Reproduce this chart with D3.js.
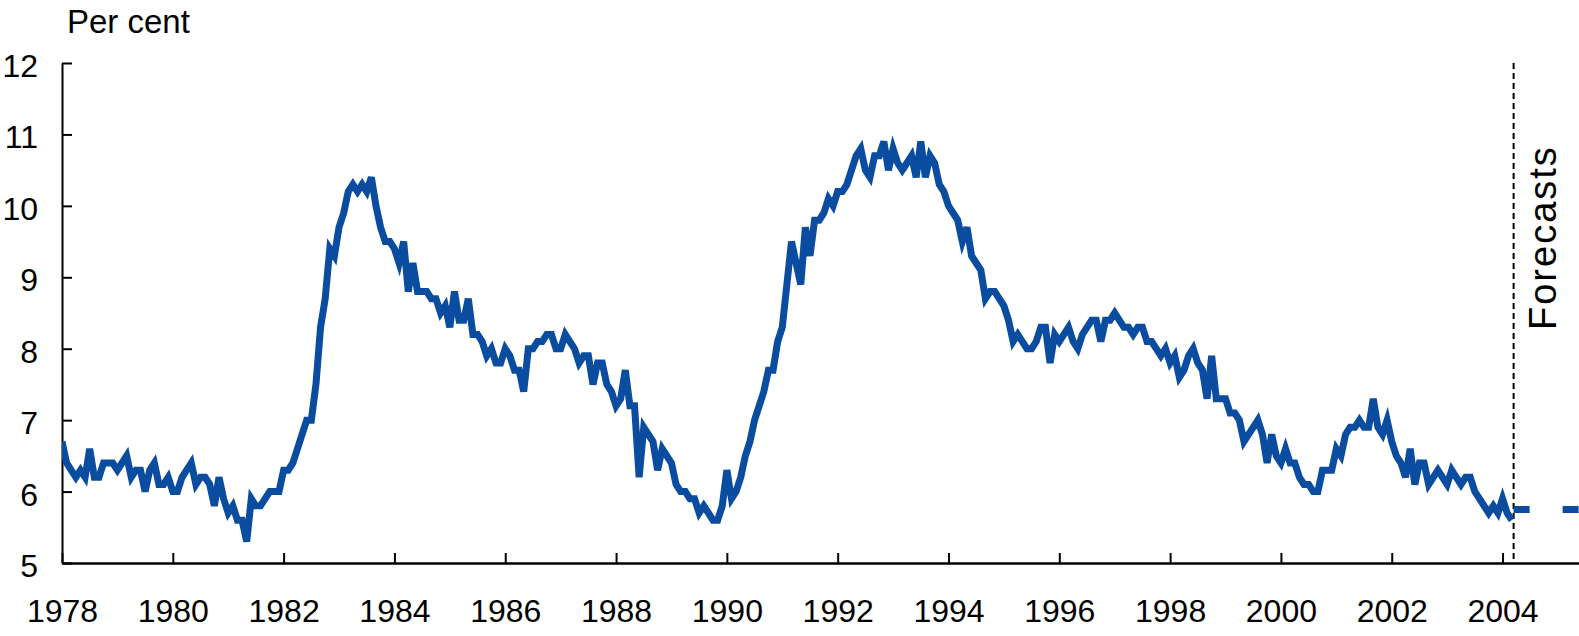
<!DOCTYPE html>
<html>
<head>
<meta charset="utf-8">
<script src="https://cdn.jsdelivr.net/npm/d3@7"></script>
<style>
  html, body { margin: 0; padding: 0; background: #fff; }
  svg { display: block; }
  text { font-family: "Liberation Sans", Arial, Helvetica, sans-serif; fill: #000; }
</style>
</head>
<body>
<svg id="chart" width="1579" height="636"></svg>
<script>
// ---------------- DATA ----------------
const startYear = 1978;            // first monthly observation (January 1978)
const unemployment = [
  // 1978
  6.7, 6.4, 6.3, 6.2, 6.3, 6.2, 6.6, 6.2, 6.2, 6.4, 6.4, 6.4,
  // 1979
  6.3, 6.4, 6.5, 6.2, 6.3, 6.3, 6.0, 6.3, 6.4, 6.1, 6.1, 6.2,
  // 1980
  6.0, 6.0, 6.2, 6.3, 6.4, 6.1, 6.2, 6.2, 6.1, 5.8, 6.2, 5.9,
  // 1981
  5.7, 5.8, 5.6, 5.6, 5.3, 5.9, 5.8, 5.8, 5.9, 6.0, 6.0, 6.0,
  // 1982
  6.3, 6.3, 6.4, 6.6, 6.8, 7.0, 7.0, 7.5, 8.3, 8.7, 9.4, 9.3,
  // 1983
  9.7, 9.9, 10.2, 10.3, 10.2, 10.3, 10.2, 10.4, 10.0, 9.7, 9.5, 9.5,
  // 1984
  9.4, 9.2, 9.5, 8.8, 9.2, 8.8, 8.8, 8.8, 8.7, 8.7, 8.5, 8.6,
  // 1985
  8.3, 8.8, 8.4, 8.4, 8.7, 8.2, 8.2, 8.1, 7.9, 8.0, 7.8, 7.8,
  // 1986
  8.0, 7.9, 7.7, 7.7, 7.4, 8.0, 8.0, 8.1, 8.1, 8.2, 8.2, 8.0,
  // 1987
  8.0, 8.2, 8.1, 8.0, 7.8, 7.9, 7.9, 7.5, 7.8, 7.8, 7.5, 7.4,
  // 1988
  7.2, 7.3, 7.7, 7.2, 7.2, 6.2, 6.9, 6.8, 6.7, 6.3, 6.6, 6.5,
  // 1989
  6.4, 6.1, 6.0, 6.0, 5.9, 5.9, 5.7, 5.8, 5.7, 5.6, 5.6, 5.8,
  // 1990
  6.3, 5.9, 6.0, 6.2, 6.5, 6.7, 7.0, 7.2, 7.4, 7.7, 7.7, 8.1,
  // 1991
  8.3, 8.9, 9.5, 9.2, 8.9, 9.7, 9.3, 9.8, 9.8, 9.9, 10.1, 10.0,
  // 1992
  10.2, 10.2, 10.3, 10.5, 10.7, 10.8, 10.5, 10.4, 10.7, 10.7, 10.9, 10.5,
  // 1993
  10.8, 10.6, 10.5, 10.6, 10.7, 10.4, 10.9, 10.4, 10.7, 10.6, 10.3, 10.2,
  // 1994
  10.0, 9.9, 9.8, 9.5, 9.7, 9.3, 9.2, 9.1, 8.7, 8.8, 8.8, 8.7,
  // 1995
  8.6, 8.4, 8.1, 8.2, 8.1, 8.0, 8.0, 8.1, 8.3, 8.3, 7.8, 8.2,
  // 1996
  8.1, 8.2, 8.3, 8.1, 8.0, 8.2, 8.3, 8.4, 8.4, 8.1, 8.4, 8.4,
  // 1997
  8.5, 8.4, 8.3, 8.3, 8.2, 8.3, 8.3, 8.1, 8.1, 8.0, 7.9, 8.0,
  // 1998
  7.8, 7.9, 7.6, 7.7, 7.9, 8.0, 7.8, 7.7, 7.3, 7.9, 7.3, 7.3,
  // 1999
  7.3, 7.1, 7.1, 7.0, 6.7, 6.8, 6.9, 7.0, 6.8, 6.4, 6.8, 6.5,
  // 2000
  6.4, 6.6, 6.4, 6.4, 6.2, 6.1, 6.1, 6.0, 6.0, 6.3, 6.3, 6.3,
  // 2001
  6.6, 6.5, 6.8, 6.9, 6.9, 7.0, 6.9, 6.9, 7.3, 6.9, 6.8, 7.0,
  // 2002
  6.7, 6.5, 6.4, 6.2, 6.6, 6.1, 6.4, 6.4, 6.1, 6.2, 6.3, 6.2,
  // 2003
  6.1, 6.3, 6.2, 6.1, 6.2, 6.2, 6.0, 5.9, 5.8, 5.7, 5.8, 5.7,
  // 2004
  5.9, 5.7, 5.6
];
const forecastStart = 2004.2;                 // vertical "Forecasts" divider
const forecastDates = [2004.2, 2005.5];
const forecastValues = [5.75, 5.75];
const xDomain = [1978, 2005.38];
const yDomain = [5, 12];
const xTickValues = [1978, 1980, 1982, 1984, 1986, 1988, 1990, 1992, 1994, 1996, 1998, 2000, 2002, 2004];
const yTickValues = [5, 6, 7, 8, 9, 10, 11, 12];
const yAxisTitle = "Per cent";
const forecastLabel = "Forecasts";

// ---------------- CHART ----------------
const W = 1579, H = 636;
const margin = { left: 62, right: 0, top: 63, bottom: 73 };
const svg = d3.select("#chart");
const lineColor = "#0A4DA0";

const x = d3.scaleLinear().domain(xDomain).range([margin.left, W - margin.right]);
const y = d3.scaleLinear().domain(yDomain).range([H - margin.bottom, margin.top]);

const series = unemployment.map((v, i) => ({ t: startYear + i / 12, v }));
const forecast = forecastDates.map((t, i) => ({ t, v: forecastValues[i] }));

svg.append("defs").append("clipPath").attr("id", "plotclip")
  .append("rect")
  .attr("x", margin.left).attr("y", 0)
  .attr("width", W - margin.left).attr("height", H);

// Axes
const fontSize = 32;
const xAxis = d3.axisBottom(x).tickValues(xTickValues).tickFormat(d3.format("d"))
  .tickSize(-10).tickSizeOuter(0).tickPadding(36);
const yAxis = d3.axisLeft(y).tickValues(yTickValues).tickFormat(d3.format("d"))
  .tickSize(-10).tickSizeOuter(0).tickPadding(24);

const gx = svg.append("g").attr("transform", `translate(0,${y(yDomain[0])})`).call(xAxis);
const gy = svg.append("g").attr("transform", `translate(${x(xDomain[0])},0)`).call(yAxis);
[gx, gy].forEach(g => {
  g.selectAll("path.domain").attr("stroke", "#000").attr("stroke-width", 2);
  g.selectAll(".tick line").attr("stroke", "#000").attr("stroke-width", 2);
  g.selectAll(".tick text")
    .style("font-family", '"Liberation Sans", Arial, sans-serif')
    .style("font-size", fontSize + "px").attr("fill", "#000");
});
gx.select("path.domain").attr("stroke-width", 2.5);
gy.selectAll(".tick text").attr("dy", "0.42em");

// Forecast divider
svg.append("line")
  .attr("x1", x(forecastStart)).attr("x2", x(forecastStart))
  .attr("y1", y(yDomain[1])).attr("y2", y(yDomain[0]))
  .attr("stroke", "#000").attr("stroke-width", 2)
  .attr("stroke-dasharray", "6,4");

// Historical line
const line = d3.line().x(d => x(d.t)).y(d => y(d.v));
svg.append("path")
  .datum(series)
  .attr("clip-path", "url(#plotclip)")
  .attr("fill", "none")
  .attr("stroke", lineColor)
  .attr("stroke-width", 7)
  .attr("stroke-linejoin", "miter")
  .attr("stroke-miterlimit", 4)
  .attr("d", line);

// Forecast line
svg.append("path")
  .datum(forecast)
  .attr("clip-path", "url(#plotclip)")
  .attr("fill", "none")
  .attr("stroke", lineColor)
  .attr("stroke-width", 7)
  .attr("stroke-dasharray", "16,33")
  .attr("d", line);

// Titles
svg.append("text")
  .attr("x", 67).attr("y", 33)
  .style("font-size", "33px")
  .text(yAxisTitle);

svg.append("text")
  .attr("transform", `translate(${x(forecastStart) + 42},330) rotate(-90)`)
  .attr("text-anchor", "start")
  .style("font-size", "38px")
  .style("letter-spacing", "2px")
  .text(forecastLabel);
</script>
</body>
</html>
